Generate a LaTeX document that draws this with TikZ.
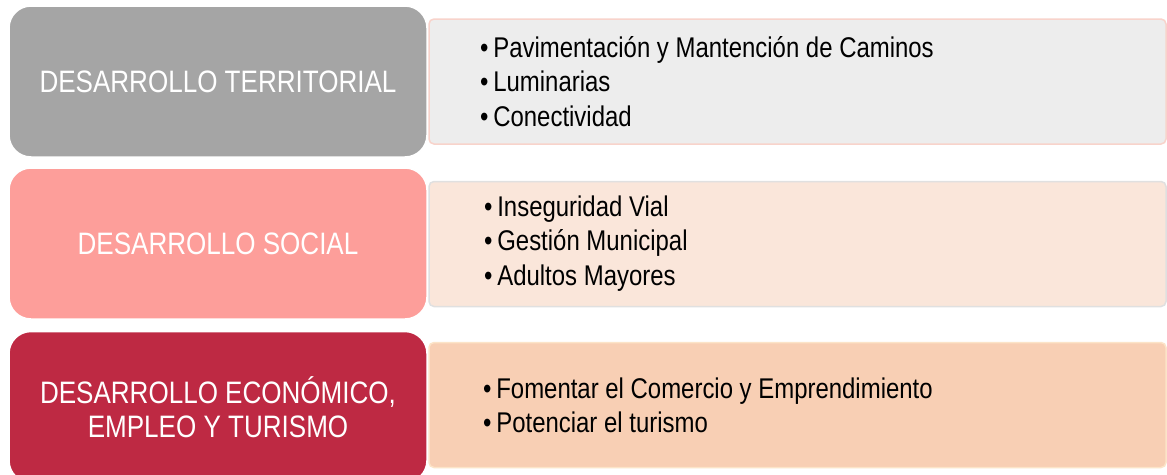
\documentclass[tikz,border=0pt]{standalone}
\usepackage{fontspec}
\setmainfont{Liberation Sans}
\newfontfamily\narrowfont[FakeStretch=0.84]{Liberation Sans}
\definecolor{cGray}{HTML}{A5A5A5}
\definecolor{cPink}{HTML}{FD9E9A}
\definecolor{cRed}{HTML}{BE2943}
\definecolor{fGray}{HTML}{EDEDED}
\definecolor{fPeach}{HTML}{FAE6DA}
\definecolor{fOrange}{HTML}{F8CFB4}
\definecolor{bPink}{HTML}{F8D3CB}
\definecolor{bGray}{HTML}{E0E0E0}
\definecolor{bCream}{HTML}{FCE4C8}
\tikzset{
  leftbox/.style={draw=white, line width=1.5pt, rounded corners=22pt,
    minimum width=418pt, minimum height=151pt, inner sep=0pt,
    text=white, align=center,
    font=\narrowfont\fontsize{31}{34}\selectfont},
  rightbox/.style={line width=1.5pt, rounded corners=5pt,
    minimum width=737pt, minimum height=125pt, inner sep=0pt},
  itemtext/.style={anchor=west, inner sep=0pt, align=left, text=black,
    font=\narrowfont\fontsize{28.5}{34.5}\selectfont}
}
\begin{document}
\begin{tikzpicture}[x=1pt,y=-1pt]
\useasboundingbox (0,0) rectangle (1167,474);
\fill[white] (0,0) rectangle (1167,474);
\begin{scope}
\clip (0,0) rectangle (1167,474);
% right boxes
\node[rightbox, fill=fGray, draw=bPink] (r1) at (797.5,81.5) {};
\node[rightbox, fill=fPeach, draw=bGray] (r2) at (797.5,244) {};
\node[rightbox, fill=fOrange, draw=bCream] (r3) at (797.5,405) {};
% left boxes
\node[leftbox, fill=cGray] (l1) at (218,81.5) {DESARROLLO TERRITORIAL};
\node[leftbox, fill=cPink] (l2) at (218,243.5) {DESARROLLO SOCIAL};
\node[leftbox, fill=cRed] (l3) at (218,407) {DESARROLLO ECONÓMICO,\\EMPLEO Y TURISMO};
% item texts
\node[itemtext] (t1) at (480,81.5) {•\,Pavimentación y Mantención de Caminos\\•\,Luminarias\\•\,Conectividad};
\node[itemtext] (t2) at (484,243.5) {•\,Inseguridad Vial\\•\,Gestión Municipal\\•\,Adultos Mayores};
\node[itemtext] (t3) at (483,405.5) {•\,Fomentar el Comercio y Emprendimiento\\•\,Potenciar el turismo};
\end{scope}
\end{tikzpicture}
\end{document}
